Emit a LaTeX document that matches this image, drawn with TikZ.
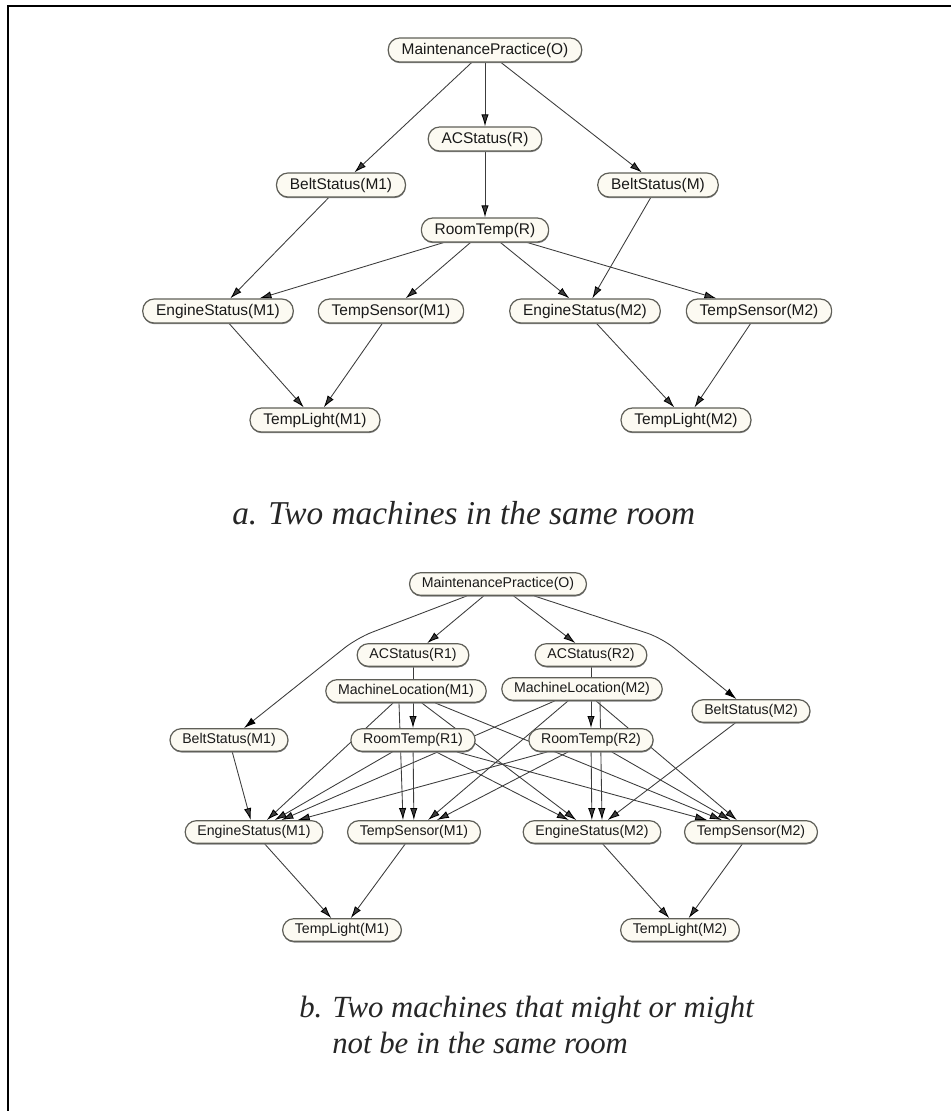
\documentclass[tikz,border=0pt]{standalone}
\usepackage{fontspec}
\setmainfont{Liberation Serif}
\newfontfamily\varfont{Liberation Sans}
\usepackage{tikz}
\usetikzlibrary{arrows.meta,shadows}
\pgfdeclarelayer{background}
\pgfsetlayers{background,main}
\definecolor{varfill}{RGB}{252,250,242}
\definecolor{varline}{RGB}{95,95,88}
\definecolor{depline}{RGB}{60,60,60}

\begin{document}
\begin{tikzpicture}
    [
    x=0.75pt,y=-0.75pt,
    var/.style={draw=varline,fill=varfill,line width=0.9pt,rounded corners=8.5pt,inner ysep=0pt,text=black!90,
        drop shadow={shadow xshift=0.2pt,shadow yshift=-0.9pt,fill=black!50,opacity=1}},
    vara/.style={var,minimum height=18pt,inner xsep=10pt,font=\varfont\fontsize{11.6}{12}\selectfont},
    varb/.style={var,minimum height=17pt,inner xsep=9.2pt,font=\varfont\fontsize{10.6}{11}\selectfont},
    dep/.style={color=depline,line width=0.65pt,-{Latex[length=9pt,width=5.5pt,black]}},
    caption/.style={inner sep=0pt,anchor=base west,text=black!85}
    ]
    \useasboundingbox (0,0) rectangle (951,1111);
    \draw[line width=1.5pt] (8,1111) -- (8,6) -- (951,6);

    % a. one room
    \node[vara] (mpA) at (485,50) {MaintenancePractice(O)};
    \node[vara] (acA) at (485,139) {ACStatus(R)};
    \node[vara] (beltA1) at (341,185) {BeltStatus(M1)};
    \node[vara] (beltA) at (658,185) {BeltStatus(M)};
    \node[vara] (roomA) at (485,230) {RoomTemp(R)};
    \node[vara] (engA1) at (218,311) {EngineStatus(M1)};
    \node[vara] (tsA1) at (391,311) {TempSensor(M1)};
    \node[vara] (engA2) at (585,311) {EngineStatus(M2)};
    \node[vara] (tsA2) at (759,311) {TempSensor(M2)};
    \node[vara] (lightA1) at (315,420) {TempLight(M1)};
    \node[vara] (lightA2) at (686,420) {TempLight(M2)};
    \node[caption,font=\itshape\fontsize{25}{28}\selectfont] (capA) at (232,524) {a. Two machines in the same room};

    % b. one or two rooms
    \node[varb] (mpB) at (498,584) {MaintenancePractice(O)};
    \node[varb] (acB1) at (413,655) {ACStatus(R1)};
    \node[varb] (acB2) at (591,655) {ACStatus(R2)};
    \node[varb] (locB1) at (406,691) {MachineLocation(M1)};
    \node[varb] (locB2) at (582,689) {MachineLocation(M2)};
    \node[varb] (beltB2) at (751,711) {BeltStatus(M2)};
    \node[varb] (beltB1) at (229,740) {BeltStatus(M1)};
    \node[varb] (roomB1) at (413,740) {RoomTemp(R1)};
    \node[varb] (roomB2) at (591,740) {RoomTemp(R2)};
    \node[varb] (engB1) at (254,832) {EngineStatus(M1)};
    \node[varb] (tsB1) at (414,832) {TempSensor(M1)};
    \node[varb] (engB2) at (592,832) {EngineStatus(M2)};
    \node[varb] (tsB2) at (751,832) {TempSensor(M2)};
    \node[varb] (lightB1) at (342,930) {TempLight(M1)};
    \node[varb] (lightB2) at (680,930) {TempLight(M2)};
    \coordinate (bendL) at (357,638);
    \coordinate (bendR) at (662,638);
    \node[caption,font=\itshape\fontsize{23.1}{26}\selectfont] (capB1) at (299,1017) {b. Two machines that might or might};
    \node[caption,font=\itshape\fontsize{23.1}{26}\selectfont] (capB2) at (332,1053) {not be in the same room};

    \begin{pgfonlayer}{background}
    \path[dep]
        (mpA) edge (acA)
              edge (beltA1)
              edge (beltA)
        (acA) edge (roomA)
        (beltA1) edge (engA1)
        (beltA) edge (engA2)
        (roomA) edge (engA1)
                edge (tsA1)
                edge (engA2)
                edge (tsA2)
        (engA1) edge (lightA1)
        (tsA1) edge (lightA1)
        (engA2) edge (lightA2)
        (tsA2) edge (lightA2)
    ;
    \draw[dep,rounded corners=12pt] (mpB) -- (bendL) -- (beltB1);
    \draw[dep,rounded corners=12pt] (mpB) -- (bendR) -- (beltB2);
    \path[dep]
        (mpB) edge (acB1)
              edge (acB2)
        (acB1) edge (roomB1)
        (acB2) edge (roomB2)
        (beltB1) edge (engB1)
        (beltB2) edge (engB2)
        (locB1) edge (engB1)
                edge (engB2)
                edge (tsB2)
        ([xshift=-5.25pt]locB1.south) edge ([xshift=-8.25pt]tsB1.north)
        (locB2) edge (engB1)
                edge (tsB1)
                edge (tsB2)
        ([xshift=13.5pt]locB2.south) edge ([xshift=7.5pt]engB2.north)
        (roomB1) edge (engB1)
                 edge (tsB1)
                 edge (engB2)
                 edge (tsB2)
        (roomB2) edge (engB1)
                 edge (tsB1)
                 edge (engB2)
                 edge (tsB2)
        (engB1) edge (lightB1)
        (tsB1) edge (lightB1)
        (engB2) edge (lightB2)
        (tsB2) edge (lightB2)
    ;
    \end{pgfonlayer}
\end{tikzpicture}
\end{document}
